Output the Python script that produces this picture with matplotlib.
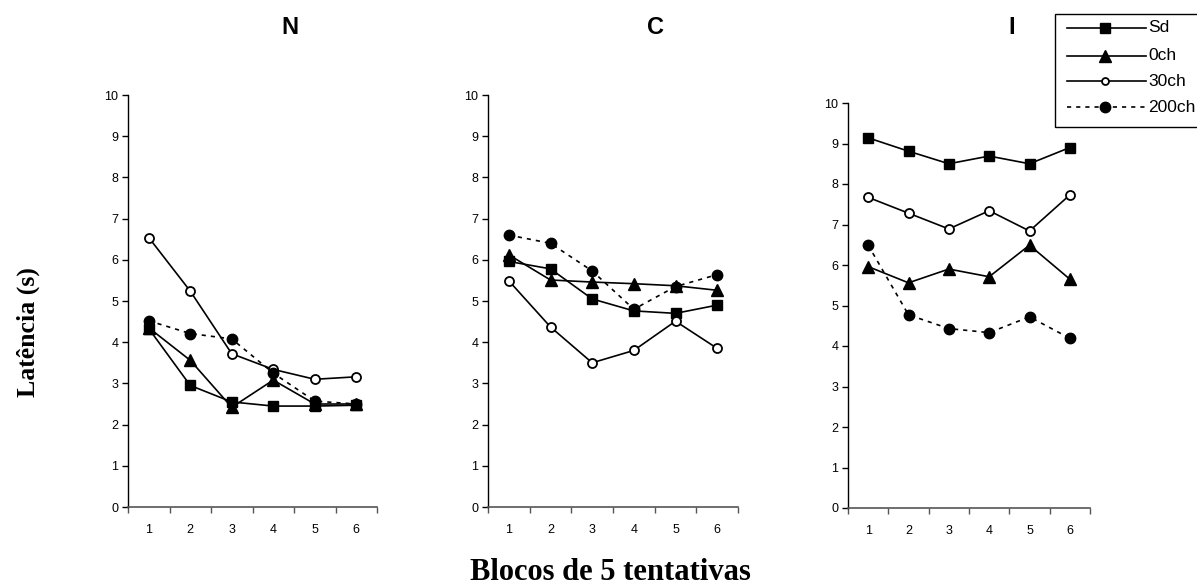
import matplotlib
matplotlib.use("Agg")
import matplotlib.pyplot as plt
from matplotlib.lines import Line2D
from matplotlib.patches import Rectangle

blocks = [1, 2, 3, 4, 5, 6]
panels = ["N", "C", "I"]
series_names = ["Sd", "0ch", "30ch", "200ch"]

N_sd = [4.33, 2.95, 2.55, 2.45, 2.45, 2.47]
N_0ch = [4.35, 3.56, 2.42, 3.08, 2.50, 2.50]
N_30ch = [6.54, 5.24, 3.72, 3.34, 3.10, 3.16]
N_200ch = [4.52, 4.21, 4.08, 3.25, 2.57, 2.50]

C_sd = [5.96, 5.78, 5.05, 4.76, 4.70, 4.90]
C_0ch = [6.12, 5.51, 5.46, 5.42, 5.37, 5.26]
C_30ch = [5.49, 4.37, 3.50, 3.80, 4.51, 3.85]
C_200ch = [6.60, 6.40, 5.73, 4.80, 5.35, 5.64]

I_sd = [9.14, 8.81, 8.50, 8.69, 8.50, 8.90]
I_0ch = [5.96, 5.56, 5.90, 5.71, 6.49, 5.65]
I_30ch = [7.67, 7.28, 6.89, 7.34, 6.84, 7.73]
I_200ch = [6.49, 4.77, 4.43, 4.33, 4.72, 4.19]

data = {
    "N": [N_sd, N_0ch, N_30ch, N_200ch],
    "C": [C_sd, C_0ch, C_30ch, C_200ch],
    "I": [I_sd, I_0ch, I_30ch, I_200ch],
}

styles = [
    dict(color="black", lw=1.2, ls="-", marker="s", ms=7.5, mfc="black", mec="black"),
    dict(color="black", lw=1.2, ls="-", marker="^", ms=8.5, mfc="black", mec="black"),
    dict(color="black", lw=1.2, ls="-", marker="o", ms=6.5, mfc="white", mec="black", mew=1.3),
    dict(color="black", lw=1.2, ls=(0, (2.5, 3)), marker="o", ms=7.5, mfc="black", mec="black"),
]

W, H = 1197, 585
fig = plt.figure(figsize=(W / 100, H / 100), dpi=100)

# axes boxes in pixels: left, right, top, bottom
boxes = {"N": (128, 377, 95, 507), "C": (488, 738, 95, 507), "I": (848, 1090, 103, 508)}
title_pos = {"N": 290, "C": 655, "I": 1012}

for p in panels:
    l, r, t, b = boxes[p]
    ax = fig.add_axes([l / W, 1 - b / H, (r - l) / W, (b - t) / H])
    for vals, st in zip(data[p], styles):
        ax.plot(blocks, vals, **st, clip_on=False)
    ax.set_xlim(0.5, 6.5)
    ax.set_ylim(0, 10)
    ax.set_yticks(range(0, 11))
    ax.set_xticks(blocks)
    ax.set_xticks([i + 0.5 for i in range(0, 7)], minor=True)
    ax.tick_params(axis="x", which="major", length=0, pad=12, labelsize=9)
    ax.tick_params(axis="x", which="minor", length=4, width=1, color="#555555", direction="out")
    ax.tick_params(axis="y", which="major", length=4, width=1, direction="out", labelsize=9, pad=3)
    for lab in ax.get_xticklabels() + ax.get_yticklabels():
        lab.set_fontfamily("Liberation Sans")
    ax.spines["top"].set_visible(False)
    ax.spines["right"].set_visible(False)
    ax.spines["left"].set_linewidth(1.0)
    ax.spines["bottom"].set_color("#555555")
    ax.spines["bottom"].set_linewidth(1.2)
    fig.text(title_pos[p] / W, 1 - 27 / H, p, ha="center", va="center",
             fontsize=17, fontweight="bold", family="Liberation Sans")

fig.text(28 / W, 1 - 332 / H, "Latência (s)", rotation=90, ha="center", va="center",
         fontsize=18.5, fontweight="bold", family="Liberation Serif")
fig.text(610 / W, 1 - 580 / H, "Blocos de 5 tentativas", ha="center", va="baseline",
         fontsize=22, fontweight="bold", family="Liberation Serif")

# legend drawn by hand
lx0, ly0, lx1, ly1 = 1055, 14, 1200, 127
fig.add_artist(Rectangle((lx0 / W, 1 - ly1 / H), (lx1 - lx0) / W, (ly1 - ly0) / H,
                         transform=fig.transFigure, fill=False, ec="black", lw=1.0))
leg_y = [28, 56, 81, 107]
leg_ms = [7.5, 8.0, 5.0, 7.5]
for name, st, yy, ms in zip(series_names, styles, leg_y, leg_ms):
    s = dict(st)
    s["ms"] = ms
    mk = dict(marker=s.pop("marker"), ms=s.pop("ms"), mfc=s.pop("mfc"), mec=s.pop("mec"),
              mew=s.pop("mew", 1.0))
    fig.add_artist(Line2D([1067 / W, 1146 / W], [1 - yy / H] * 2, transform=fig.transFigure, **s))
    fig.add_artist(Line2D([1105 / W], [1 - yy / H], transform=fig.transFigure, ls="none", **mk))
    fig.text(1148 / W, 1 - yy / H, name, ha="left", va="center", fontsize=12.5,
             family="Liberation Sans")

fig.savefig("out.png", dpi=100)
